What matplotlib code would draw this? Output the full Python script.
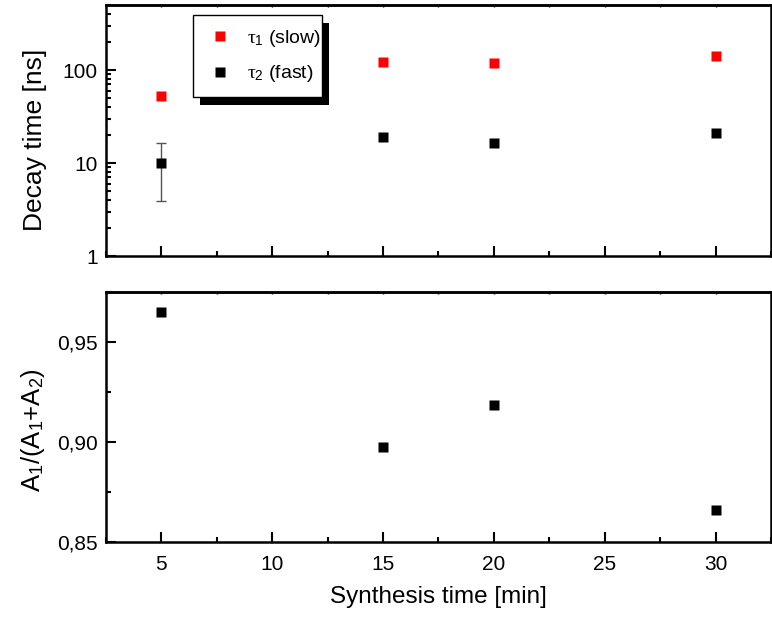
import matplotlib
matplotlib.use("Agg")
import matplotlib.pyplot as plt
from matplotlib.ticker import MultipleLocator, FuncFormatter, LogLocator, NullFormatter
from matplotlib.patches import Rectangle

# data
synth_time = [5, 15, 20, 30]
tau_slow = [52.5, 123, 120, 141]
tau_fast = [10.0, 19.0, 16.5, 21.2]
tau_fast_lo = [3.9, None, None, None]   # lower end of error bar at 5 min
tau_fast_hi = [16.3, None, None, None]  # upper end of error bar at 5 min
amp_ratio = [0.965, 0.8977, 0.9185, 0.866]

plt.rcParams['font.family'] = ['Liberation Sans', 'DejaVu Sans']
plt.rcParams['mathtext.fontset'] = 'custom'
plt.rcParams['mathtext.rm'] = 'Liberation Sans'
plt.rcParams['mathtext.it'] = 'Liberation Serif'

fig = plt.figure(figsize=(7.72, 6.22), dpi=100)
ax1 = fig.add_axes([0.1373, 0.5884, 0.8614, 0.4035])
ax2 = fig.add_axes([0.1373, 0.1286, 0.8614, 0.4019], sharex=ax1)

for ax in (ax1, ax2):
    for s in ax.spines.values():
        s.set_linewidth(1.8)
    ax.tick_params(which='major', direction='in', length=7, width=1.5,
                   labelsize=15, top=False, right=False)
    ax.tick_params(which='minor', direction='in', length=3.5, width=1.5,
                   top=False, right=False)
    ax.tick_params(axis='x', pad=9)
    ax.tick_params(axis='y', pad=6)
    # tiny ticks on the top spine
    sec = ax.secondary_xaxis('top')
    sec.xaxis.set_major_locator(MultipleLocator(5))
    sec.xaxis.set_minor_locator(MultipleLocator(2.5))
    sec.tick_params(which='both', direction='in', length=1.5, width=1,
                    labelbottom=False, labeltop=False)
    sec.spines['top'].set_linewidth(1.8)

ax1.set_xlim(2.5, 32.5)
ax1.xaxis.set_major_locator(MultipleLocator(5))
ax1.xaxis.set_minor_locator(MultipleLocator(2.5))
ax1.tick_params(axis='x', labelbottom=False)

# top panel: decay times
ax1.set_yscale('log')
ax1.set_ylim(1, 500)
ax1.yaxis.set_major_locator(LogLocator(base=10, numticks=10))
ax1.yaxis.set_minor_locator(LogLocator(base=10, subs=range(2, 10), numticks=20))
ax1.yaxis.set_minor_formatter(NullFormatter())
ax1.yaxis.set_major_formatter(FuncFormatter(lambda v, p: f'{v:g}'))

ax1.plot(synth_time, tau_slow, 's', color='#ff0000', ms=6.5, mec='none',
         label=r'$\tau_1$ (slow)', zorder=3)
ax1.plot(synth_time, tau_fast, 's', color='black', ms=7, mec='none',
         label=r'$\tau_2$ (fast)', zorder=3)
for x, y, lo, hi in zip(synth_time, tau_fast, tau_fast_lo, tau_fast_hi):
    if lo is not None:
        ax1.errorbar([x], [y], yerr=[[y - lo], [hi - y]], fmt='none',
                     ecolor='#555555', elinewidth=1, capsize=3.3, capthick=1,
                     zorder=2)

ax1.set_ylabel('Decay time [ns]', fontsize=19)
ax1.yaxis.set_label_coords(-0.089, 0.462)

# legend without its own frame; the box and shadow are drawn below
leg = ax1.legend(loc='upper left', bbox_to_anchor=(0.131, 0.936),
                 borderaxespad=0, fontsize=14, frameon=False,
                 handlelength=2.1, handletextpad=0.3, borderpad=0.35,
                 labelspacing=0.75)
leg.set_zorder(10)

# bottom panel: amplitude ratio
ax2.plot(synth_time, amp_ratio, 's', color='black', ms=7, mec='none')
ax2.set_ylim(0.85, 0.975)
ax2.yaxis.set_major_locator(MultipleLocator(0.05))
ax2.yaxis.set_minor_locator(MultipleLocator(0.025))
ax2.yaxis.set_major_formatter(FuncFormatter(lambda v, p: f'{v:.2f}'.replace('.', ',')))
ax2.set_ylabel(r'A$_1$/(A$_1$+A$_2$)', fontsize=18.5)
ax2.yaxis.set_label_coords(-0.089, 0.448)
ax2.set_xlabel('Synthesis time [min]', fontsize=17.5)
ax2.xaxis.set_label_coords(0.5, -0.175)

# legend box (a bit taller than the entries) with black drop shadow
fig.canvas.draw()
bb = leg.get_window_extent()
x0, x1 = bb.x0, bb.x1 - 5
y0, y1 = bb.y0 - 6, bb.y1 + 6
shadow = Rectangle((x0 + 7, y0 - 8), x1 - x0, y1 - y0, transform=None,
                   facecolor='black', edgecolor='none', zorder=8, clip_on=False)
box = Rectangle((x0, y0), x1 - x0, y1 - y0, transform=None,
                facecolor='white', edgecolor='black', linewidth=1.0,
                zorder=9, clip_on=False)
ax1.add_artist(shadow)
ax1.add_artist(box)

fig.savefig('out.png', dpi=100)
